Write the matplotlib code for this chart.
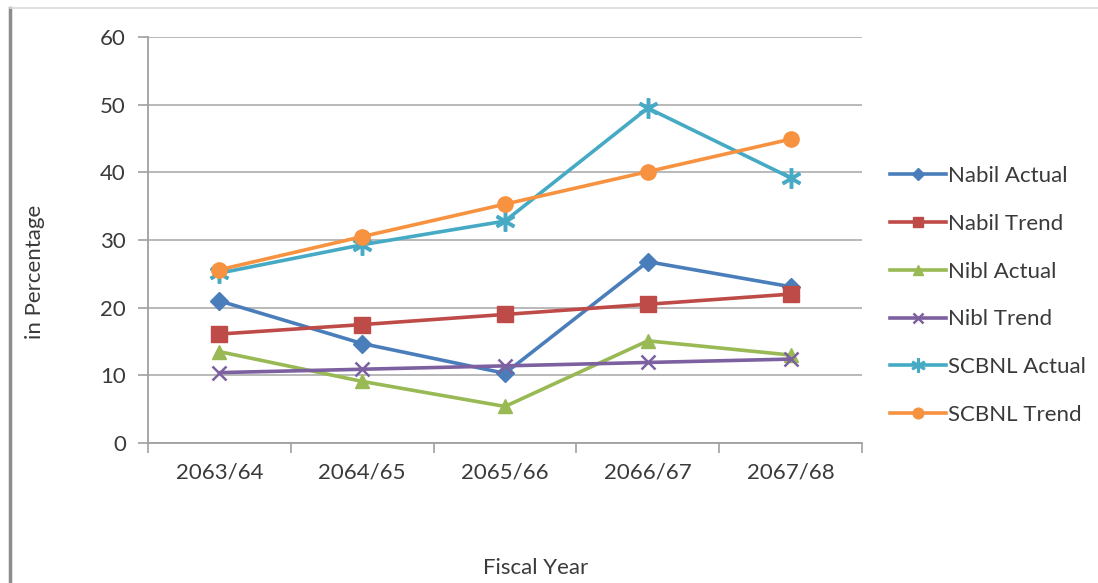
import matplotlib
matplotlib.use("Agg")
import matplotlib.pyplot as plt
import numpy as np

plt.rcParams['font.family'] = ['Lato', 'DejaVu Sans']

years = ["2063/64", "2064/65", "2065/66", "2066/67", "2067/68"]
nabil_actual = [21.0, 14.7, 10.3, 26.8, 23.1]
nabil_trend = [16.1, 17.5, 19.0, 20.5, 22.0]
nibl_actual = [13.5, 9.1, 5.4, 15.1, 13.0]
nibl_trend = [10.4, 10.9, 11.4, 11.9, 12.4]
scbnl_actual = [25.1, 29.3, 32.8, 49.5, 39.2]
scbnl_trend = [25.6, 30.5, 35.3, 40.1, 44.9]

series = [
    ("Nabil Actual", nabil_actual, "#4A7EBB", "D", 9),
    ("Nabil Trend", nabil_trend, "#BE4B48", "s", 11),
    ("Nibl Actual", nibl_actual, "#98B954", "^", 10),
    ("Nibl Trend", nibl_trend, "#7D60A0", "x", 10),
    ("SCBNL Actual", scbnl_actual, "#46AAC5", "$\\ast$", 14),
    ("SCBNL Trend", scbnl_trend, "#F69240", "o", 11),
]

FS = 16
TC = '#3a3a3a'

fig = plt.figure(figsize=(10.98, 5.83), dpi=100)
W, H = 1098, 583
ax = fig.add_axes([148 / W, 1 - 443 / H, (862 - 148) / W, (443 - 37) / H])

x = np.arange(1, len(years) + 1)
for name, vals, col, mk, ms in series:
    kw = dict(color=col, lw=2.6, marker=mk, markersize=ms, label=name,
              markerfacecolor=col, markeredgecolor=col)
    if mk == "x":
        kw["markeredgewidth"] = 1.8
    ax.plot(x, vals, **kw)

ax.set_xlim(0.5, len(years) + 0.5)
ax.set_ylim(0, 60)
ax.set_yticks(range(0, 61, 10))
ax.grid(axis='y', color='#b3b3b3', lw=1.3, zorder=0)
ax.set_axisbelow(True)
ax.set_xticks(x)
ax.set_xticklabels(years)
ax.set_xticks(np.arange(0.5, len(years) + 1, 1), minor=True)
ax.tick_params(axis='x', which='major', length=0, pad=14, labelsize=FS, colors=TC)
ax.tick_params(axis='x', which='minor', length=7, width=1.2, color='#a0a0a0')
ax.tick_params(axis='y', length=7, width=1.2, color='#a0a0a0', pad=9, labelsize=FS, labelcolor=TC)
for s in ['top', 'right']:
    ax.spines[s].set_visible(False)
for s in ['left', 'bottom']:
    ax.spines[s].set_color('#a0a0a0')
    ax.spines[s].set_linewidth(1.3)

fig.text(35 / W, 1 - 272 / H, "in Percentage", rotation=90, ha='center', va='center',
         fontsize=FS, color=TC)
fig.text(536 / W, 1 - 568 / H, "Fiscal Year", ha='center', va='center',
         fontsize=FS, color=TC)

leg = fig.legend(loc='upper left', bbox_to_anchor=(890 / W, 1 - 166 / H), frameon=False,
                 fontsize=FS, handlelength=2.5, handletextpad=0.1, labelspacing=1.25,
                 borderaxespad=0, borderpad=0, markerscale=0.7)
for t in leg.get_texts():
    t.set_color(TC)

# chart frame
fig.add_artist(plt.Line2D([10 / W, 10 / W], [0, 1 - 8 / H], color='#8c8c8c', lw=2.5,
                          transform=fig.transFigure))
fig.add_artist(plt.Line2D([10 / W, 1], [1 - 8 / H, 1 - 8 / H], color='#d9d9d9', lw=1.2,
                          transform=fig.transFigure))

fig.savefig("out.png", dpi=100)
